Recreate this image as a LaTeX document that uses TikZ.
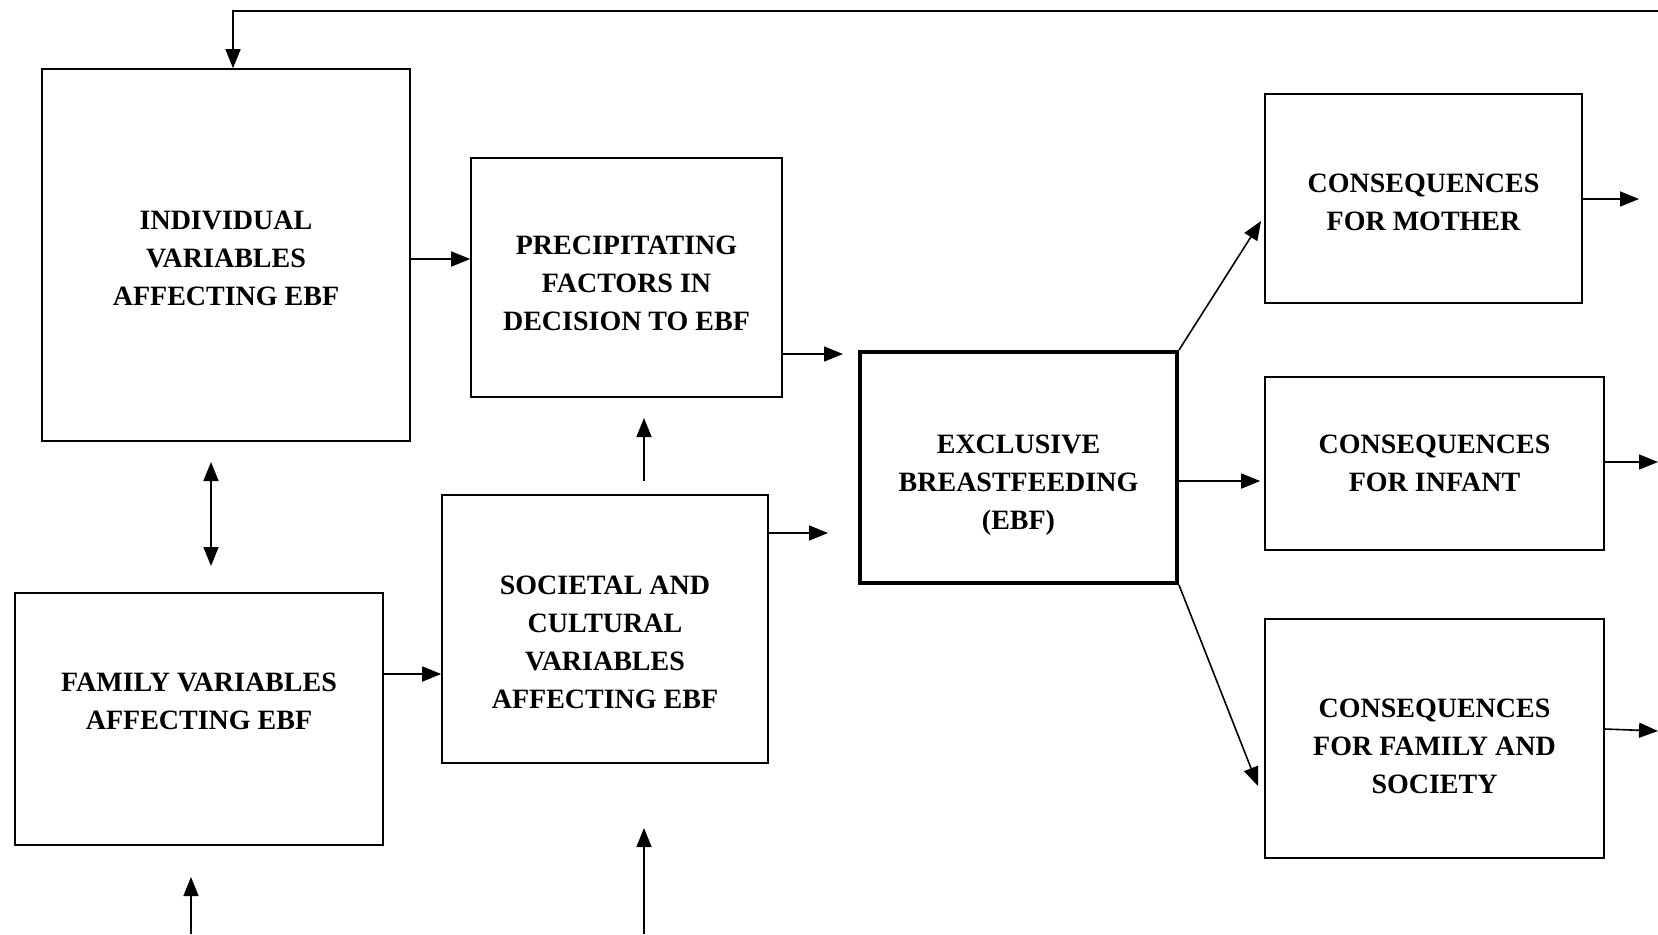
\documentclass[tikz,border=0pt]{standalone}
\usepackage{fontspec}
\setmainfont{Liberation Serif}
\usetikzlibrary{arrows.meta}
\begin{document}
\begin{tikzpicture}[x=0.5pt,y=-0.5pt,
  box/.style={draw, line width=0.8pt, rectangle, inner sep=0pt},
  thickbox/.style={draw, line width=2pt, rectangle, inner sep=0pt},
  txt/.style={align=center, font=\fontsize{14}{19}\selectfont\bfseries, inner sep=0pt},
  arr/.style={line width=0.8pt, -{Triangle[length=9.5pt,width=7.5pt]}},
  darr/.style={line width=0.8pt, {Triangle[length=9.5pt,width=7.5pt]}-{Triangle[length=9.5pt,width=7.5pt]}},
  ln/.style={line width=0.8pt}]
\useasboundingbox (0,0) rectangle (1658,934);
% boxes
\node[box, minimum width=184pt, minimum height=186pt] (ind) at (226,255) {};
\node[txt] (indt) at (226,258) {INDIVIDUAL\\VARIABLES\\AFFECTING EBF};
\node[box, minimum width=155.5pt, minimum height=119.5pt] (prec) at (626.5,277.5) {};
\node[txt] (prect) at (626.5,283) {PRECIPITATING\\FACTORS IN\\DECISION TO EBF};
\node[thickbox, minimum width=158.5pt, minimum height=115.5pt] (ebf) at (1018.5,467.5) {};
\node[txt] (ebft) at (1018.5,485) {EXCLUSIVE\\BREASTFEEDING\\(EBF)};
\node[box, minimum width=163pt, minimum height=134pt] (soc) at (605,629) {};
\node[txt] (soct) at (605,642) {SOCIETAL AND\\CULTURAL\\VARIABLES\\AFFECTING EBF};
\node[box, minimum width=184pt, minimum height=126pt] (fam) at (199,719) {};
\node[txt] (famt) at (199,701) {FAMILY VARIABLES\\AFFECTING EBF};
\node[box, minimum width=158.5pt, minimum height=104.5pt] (mot) at (1423.5,198.5) {};
\node[txt] (mott) at (1423.5,202) {CONSEQUENCES\\FOR MOTHER};
\node[box, minimum width=169.5pt, minimum height=86.5pt] (inf) at (1434.5,463.5) {};
\node[txt] (inft) at (1434.5,463) {CONSEQUENCES\\FOR INFANT};
\node[box, minimum width=169.5pt, minimum height=119.5pt] (fcs) at (1434.5,738.5) {};
\node[txt] (fcst) at (1434.5,746) {CONSEQUENCES\\FOR FAMILY AND\\SOCIETY};
% free-end coordinates
\coordinate (topR) at (1658,11);
\coordinate (topL) at (233,11);
\coordinate (precOut) at (843,354);
\coordinate (socOut) at (828,533);
\coordinate (socUpA) at (644,481);
\coordinate (socUpB) at (644,418);
\coordinate (dA) at (211,462);
\coordinate (dB) at (211,566);
\coordinate (famInA) at (191,934);
\coordinate (famInB) at (191,877);
\coordinate (socInA) at (644,934);
\coordinate (socInB) at (644,828);
\coordinate (motOut) at (1639,199);
\coordinate (infOut) at (1658,462);
\coordinate (fcsOut) at (1658,731);
\coordinate (motIn) at (1261,221);
\coordinate (fcsIn) at (1258,786);
% connectors
\draw[arr] (topR) -- (topL) -- (ind.north -| topL);
\draw[arr] (ind.east |- 0,259) -- (prec.west |- 0,259);
\draw[arr] (prec.east |- precOut) -- (precOut);
\draw[arr] (soc.east |- socOut) -- (socOut);
\draw[arr] (socUpA) -- (socUpB);
\draw[darr] (dA) -- (dB);
\draw[arr] (fam.east |- 0,674) -- (soc.west |- 0,674);
\draw[arr] (famInA) -- (famInB);
\draw[arr] (socInA) -- (socInB);
\draw[arr] (ebf.north east) -- (motIn);
\draw[arr] (ebf.east |- 0,481) -- ([xshift=-2pt]inf.west |- 0,481);
\draw[arr] (ebf.south east) -- (fcsIn);
\draw[arr] (mot.east |- motOut) -- (motOut);
\draw[arr] (inf.east |- infOut) -- (infOut);
\draw[arr] (fcs.east |- 0,729) -- (fcsOut);
\end{tikzpicture}
\end{document}
